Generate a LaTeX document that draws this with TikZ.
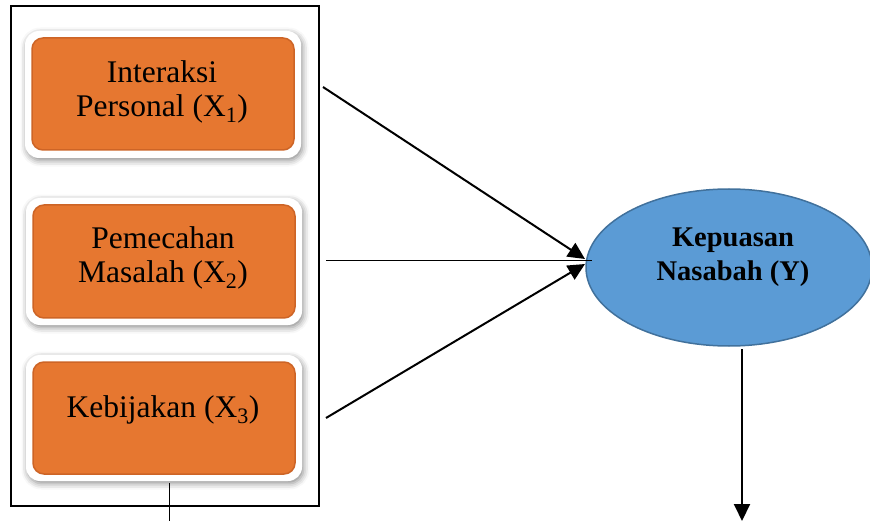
\documentclass[tikz,border=0pt]{standalone}
\usepackage{fontspec}
\setmainfont{Liberation Serif}
\usetikzlibrary{shapes.geometric,shadows.blur,arrows.meta}
\definecolor{orangefill}{RGB}{230,119,48}
\definecolor{orangedark}{RGB}{205,100,38}
\definecolor{bluefill}{RGB}{91,155,213}
\definecolor{blueedge}{RGB}{65,113,156}
\tikzset{
  glow/.style={rectangle, draw=none, fill=white, rounded corners=14pt, inner sep=0pt,
    blur shadow={shadow xshift=1.5pt, shadow yshift=-2.5pt, shadow blur radius=6pt, shadow opacity=45}},
  factor/.style={rectangle, rounded corners=11pt, fill=orangefill, draw=orangedark, line width=1.5pt, inner sep=0pt},
  factortext/.style={align=center, font=\fontsize{31.5}{34}\selectfont, inner sep=0pt},
  outcome/.style={ellipse, fill=bluefill, draw=blueedge, line width=1.5pt, inner sep=0pt,
    minimum width=286pt, minimum height=157pt},
  outcometext/.style={align=center, font=\fontsize{28.5}{34}\selectfont\bfseries, inner sep=0pt},
  heavy/.style={line width=2pt},
  light/.style={line width=1pt},
  headtip/.style={-{Triangle[length=17pt,width=16pt]}}
}
\begin{document}
\begin{tikzpicture}[x=1pt,y=-1pt]
\useasboundingbox (0,0) rectangle (870,521);
% frame
\node[draw, line width=2pt, minimum width=307.5pt, minimum height=499.5pt, inner sep=0pt] (frame) at (164.75,255.75) {};
% factor boxes
\node[glow, minimum width=276pt, minimum height=127pt] (g1) at (163,94.5) {};
\node[factor, minimum width=262pt, minimum height=112pt] (x1) at (163,94) {};
\node[factortext] (x1t) at (162,92) {Interaksi\\Personal (X\textsubscript{1})};

\node[glow, minimum width=276pt, minimum height=127pt] (g2) at (164,261.5) {};
\node[factor, minimum width=262pt, minimum height=113pt] (x2) at (164,261.5) {};
\node[factortext] (x2t) at (163,258) {Pemecahan\\Masalah (X\textsubscript{2})};

\node[glow, minimum width=276pt, minimum height=126pt] (g3) at (164,418) {};
\node[factor, minimum width=262pt, minimum height=112pt] (x3) at (164,418) {};
\node[factortext] (x3t) at (163,410) {Kebijakan (X\textsubscript{3})};

% outcome
\node[outcome] (y) at (729,267.5) {};
\node[outcometext] (yt) at (733,257) {Kepuasan\\Nasabah (Y)};

% connector end points
\coordinate (s1) at (323,87);
\coordinate (s2) at (326,261);
\coordinate (s3) at (326,418);
\coordinate (t1) at (585,259);
\coordinate (t2) at (592,261);
\coordinate (t3) at (585,264);
\coordinate (b3a) at (169,483);
\coordinate (b3b) at (169,521);
\coordinate (ya) at (742,349);
\coordinate (yb) at (742,521);

\draw[light] (s2) -- (t2);
\draw[heavy, headtip] (s1) -- (t1);
\draw[heavy, headtip] (s3) -- (t3);
\draw[light] (b3a) -- (b3b);
\draw[heavy, headtip] (ya) -- (yb);
\end{tikzpicture}
\end{document}
